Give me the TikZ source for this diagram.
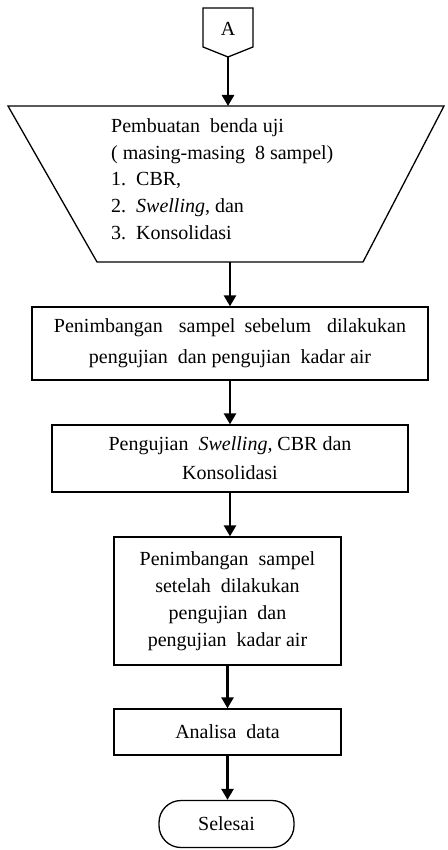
\documentclass[tikz,border=0pt]{standalone}
\usepackage{fontspec}
\setmainfont{Liberation Serif}
\usetikzlibrary{arrows.meta}
\tikzset{
  x=1pt, y=-1pt,
  shapeline/.style={draw=black, line width=1.3pt, fill=white},
  flow/.style={line width=2.6pt, -{Triangle[length=11pt,width=12pt]}},
  txt/.style={font=\fontsize{20}{29}\selectfont, align=center, inner sep=0pt},
}
\begin{document}
\begin{tikzpicture}
\useasboundingbox[fill=white] (0,0) rectangle (447,850);
% connector A
\draw[shapeline] (203,8) -- (253,8) -- (253,47) -- (228,57) -- (203,47) -- cycle;
\node[txt] (A) at (228,29) {A};
\coordinate (Ab) at (228,57);
% trapezoid
\draw[shapeline] (8,106) -- (444,106) -- (363,262) -- (97,262) -- cycle;
\coordinate (Tt) at (228,106);
\coordinate (Tb) at (230,262);
\node[txt, font=\fontsize{20}{26.5}\selectfont, align=left, anchor=base west] (T) at (111,239)
 {Pembuatan\ \ benda uji\\
  ( masing-masing\ \ 8 sampel)\\
  1.\ \ CBR,\\
  2.\ \ \textit{Swelling}, dan\\
  3.\ \ Konsolidasi};
% box 2
\node[shapeline, txt, font=\fontsize{20}{31}\selectfont, minimum width=396pt, minimum height=73pt] (B2) at (230,343.5)
 {Penimbangan\hspace{16pt}sampel\hspace{9pt}sebelum\hspace{16pt}dilakukan\\ pengujian\ \ dan pengujian\ \ kadar air};
% box 3
\node[shapeline, txt, minimum width=356pt, minimum height=67pt] (B3) at (230,458.5)
 {Pengujian\ \ \textit{Swelling,} CBR dan\\ Konsolidasi};
% box 4
\node[shapeline, txt, font=\fontsize{20}{27}\selectfont, minimum width=227pt, minimum height=128pt] (B4) at (227.5,601)
 {Penimbangan\ \ sampel\\ setelah\ \ dilakukan\\ pengujian\ \ dan\\ pengujian\ \ kadar air};
% box 5
\node[shapeline, txt, minimum width=227pt, minimum height=46pt] (B5) at (227.5,732)
 {Analisa\ \ data};
% terminal
\node[shapeline, txt, minimum width=135pt, minimum height=47pt, rounded corners=22pt] (E) at (226.5,824)
 {Selesai};
% connectors
\draw[flow] (Ab) -- (Tt);
\draw[flow] (Tb) -- (Tb |- B2.north);
\draw[flow] (B2.south) -- (B3.north);
\draw[flow] (B3.south) -- (B3.south |- B4.north);
\draw[flow] (B4.south) -- (B5.north);
\draw[flow] (B5.south) -- (B5.south |- E.north);
\end{tikzpicture}
\end{document}
